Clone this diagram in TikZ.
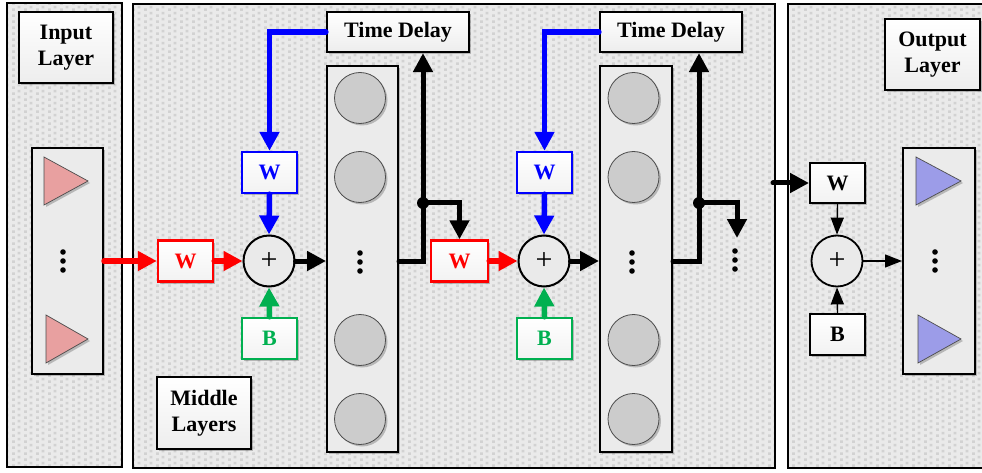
\documentclass[tikz,border=0pt]{standalone}
\usepackage{fontspec}
\setmainfont{Liberation Serif}
\usetikzlibrary{arrows.meta,shadows,patterns.meta,calc}

\definecolor{panelbg}{HTML}{EAEAEA}
\definecolor{graincol}{HTML}{D2D2D2}
\definecolor{colfill}{HTML}{EBEBEB}
\definecolor{cellfill}{HTML}{CCCCCC}
\definecolor{wred}{HTML}{FF0000}
\definecolor{wblue}{HTML}{0000FF}
\definecolor{bgreen}{HTML}{00B050}
\definecolor{inpink}{HTML}{E8A0A0}
\definecolor{outblue}{HTML}{9C9CE8}

% staggered square texture for the layer panels
\tikzdeclarepattern{
  name=panelgrain,
  type=uncolored,
  bounding box={(0pt,0pt) and (12pt,6pt)},
  tile size={(12pt,6pt)},
  code={
    \fill (0pt,0pt) rectangle (3pt,3pt);
    \fill (6pt,3pt) rectangle (9pt,6pt);
  }
}

\begin{document}
\begin{tikzpicture}[x=1pt,y=-1pt,
  font=\fontsize{22}{26}\selectfont\bfseries,
  line join=miter,
  softshadow/.style={drop shadow={shadow xshift=2pt,shadow yshift=-2pt,opacity=0.22,fill=black}},
  panelfill/.style={fill=panelbg},
  panelgrainfill/.style={pattern=panelgrain,pattern color=graincol},
  panelborder/.style={draw=black,line width=2.6pt},
  labelbox/.style={draw=black,line width=2.2pt,top color=white,bottom color=gray!14,
    minimum width=94pt,minimum height=71pt,inner sep=0pt,align=center,softshadow},
  delaybox/.style={labelbox,minimum width=142pt,minimum height=40pt},
  column/.style={draw=black,line width=2pt,fill=colfill,inner sep=0pt,softshadow},
  wbox/.style={line width=2.4pt,top color=white,bottom color=gray!10,
    minimum width=55pt,minimum height=41pt,inner sep=0pt,softshadow},
  redbox/.style={wbox,draw=wred,text=wred},
  bluebox/.style={wbox,draw=wblue,text=wblue},
  greenbox/.style={wbox,draw=bgreen,text=bgreen},
  blackbox/.style={wbox,draw=black,line width=2pt,minimum height=40pt},
  sumnode/.style={circle,draw=black,line width=2pt,minimum size=51pt,inner sep=0pt,
    fill=panelbg,font=\fontsize{30}{30}\selectfont\mdseries},
  cell/.style={fill=cellfill,draw=black!70,line width=0.8pt,softshadow},
  intri/.style={fill=inpink,draw=black!70,line width=0.7pt,softshadow},
  outtri/.style={fill=outblue,draw=black!70,line width=0.7pt,softshadow},
  bigtip/.style={line cap=round,-{Triangle[length=19pt,width=19pt]}},
  sigred/.style={draw=wred,line width=5.5pt},
  sigblue/.style={draw=wblue,line width=5.5pt},
  siggreen/.style={draw=bgreen,line width=5.5pt},
  sigblack/.style={draw=black,line width=5pt},
  thin/.style={draw=black,line width=1.4pt,-{Triangle[length=17pt,width=13pt]}},
  ellipsisdot/.style={fill=black}
]
\useasboundingbox (0,0) rectangle (982,473);
\fill[white] (0,0) rectangle (982,473);

% ---- layer panels ----
\fill[panelfill] (7,3) rectangle (122,467);
\fill[panelgrainfill] (7,3) rectangle (122,467);
\draw[panelborder] (7,3) rectangle (122,467);

\fill[panelfill] (133,4) rectangle (775,468);
\fill[panelgrainfill] (133,4) rectangle (775,468);
\draw[panelborder] (133,4) rectangle (775,468);

\fill[panelfill] (788,4) rectangle (982,468);
\fill[panelgrainfill] (788,4) rectangle (982,468);
\draw[panelborder] (984,4) -- (788,4) -- (788,468) -- (984,468);

% ---- input layer ----
\node[labelbox] (inlabel) at (66,47.5) {Input\\Layer};
\node[column,minimum width=71pt,minimum height=226pt] (incol) at (67.5,261) {};
\filldraw[intri] (44,157) -- (88,181) -- (44,205) -- cycle;
\filldraw[intri] (46,315) -- (88,339) -- (46,363) -- cycle;
\foreach \yy in {252,261,270} \fill[ellipsisdot] (63,\yy) circle[radius=2.8pt];

% ---- first middle stage ----
\node[redbox] (w1) at (185.5,261) {W};
\node[sumnode] (s1) at (269,261) {+};
\node[bluebox] (wb1) at (269.5,172.5) {W};
\node[greenbox] (b1) at (269.5,338.5) {B};
\node[labelbox,minimum height=72pt] (midlabel) at (204,413) {Middle\\Layers};
\node[delaybox] (td1) at (398,32) {Time Delay};
\node[column,minimum width=71pt,minimum height=386pt] (c1) at (362.5,259) {};
\foreach \yy in {98,177,340,419} \filldraw[cell] (360,\yy) circle[radius=25.5pt];
\foreach \yy in {253,262,271} \fill[ellipsisdot] (360,\yy) circle[radius=2.8pt];

% ---- second middle stage ----
\node[redbox,minimum width=57pt] (w2) at (459.5,261) {W};
\node[sumnode] (s2) at (544,261) {+};
\node[bluebox] (wb2) at (544.5,172.5) {W};
\node[greenbox] (b2) at (544.5,338.5) {B};
\node[delaybox] (td2) at (671,32) {Time Delay};
\node[column,minimum width=72pt,minimum height=386pt] (c2) at (636,259) {};
\foreach \yy in {98,177,340,419} \filldraw[cell] (633.5,\yy) circle[radius=25.5pt];
\foreach \yy in {253,262,271} \fill[ellipsisdot] (632,\yy) circle[radius=2.8pt];

% ---- output layer ----
\node[labelbox,minimum width=95pt] (outlabel) at (932.5,54.5) {Output\\Layer};
\node[blackbox] (wo) at (837.5,183) {W};
\node[sumnode,line width=1.8pt] (so) at (837,261) {+};
\node[blackbox,minimum height=41pt] (bo) at (837.5,334.5) {B};
\node[column,minimum width=72pt,minimum height=226pt] (outcol) at (939,261) {};
\filldraw[outtri] (916,157) -- (961,181) -- (916,205) -- cycle;
\filldraw[outtri] (918,315) -- (961,339) -- (918,363) -- cycle;
\foreach \yy in {252,261,270} \fill[ellipsisdot] (935,\yy) circle[radius=2.8pt];

% ---- junctions and free ends ----
\coordinate (j1) at (423,203);
\coordinate (j2) at (699,203);
\coordinate (more) at (737,238);
\coordinate (feed) at (773,183);

% ---- connectors: first stage ----
\draw[sigred,bigtip] (incol.east) -- (w1.west);
\draw[sigred,bigtip] (w1.east) -- (s1.west);
\draw[sigblue,bigtip] (td1.west) -| (wb1.north);
\draw[sigblue,bigtip] (wb1.south) -- (s1.north);
\draw[siggreen,bigtip] (b1.north) -- (s1.south);
\draw[sigblack,bigtip] (s1.east) -- (s1.east -| c1.west);
\draw[sigblack,bigtip] (c1.east |- s1.center) -| (j1 |- td1.south);
\draw[sigblack,bigtip] (j1) -| (w2.north);
\fill (j1) circle[radius=6pt];

% ---- connectors: second stage ----
\draw[sigred,bigtip] (w2.east) -- (s2.west);
\draw[sigblue,bigtip] (td2.west) -| (wb2.north);
\draw[sigblue,bigtip] (wb2.south) -- (s2.north);
\draw[siggreen,bigtip] (b2.north) -- (s2.south);
\draw[sigblack,bigtip] (s2.east) -- (s2.east -| c2.west);
\draw[sigblack,bigtip] (c2.east |- s2.center) -| (j2 |- td2.south);
\draw[sigblack,bigtip] (j2) -| (more);
\fill (j2) circle[radius=6pt];
\foreach \yy in {251,260,269} \fill[ellipsisdot] (735,\yy) circle[radius=2.8pt];

% ---- connectors: output layer ----
\draw[sigblack,bigtip] (feed) -- (wo.west);
\draw[thin] (wo.south) -- (so.north);
\draw[thin] (bo.north) -- (so.south);
\draw[thin] (so.east) -- (outcol.west);
\end{tikzpicture}
\end{document}
